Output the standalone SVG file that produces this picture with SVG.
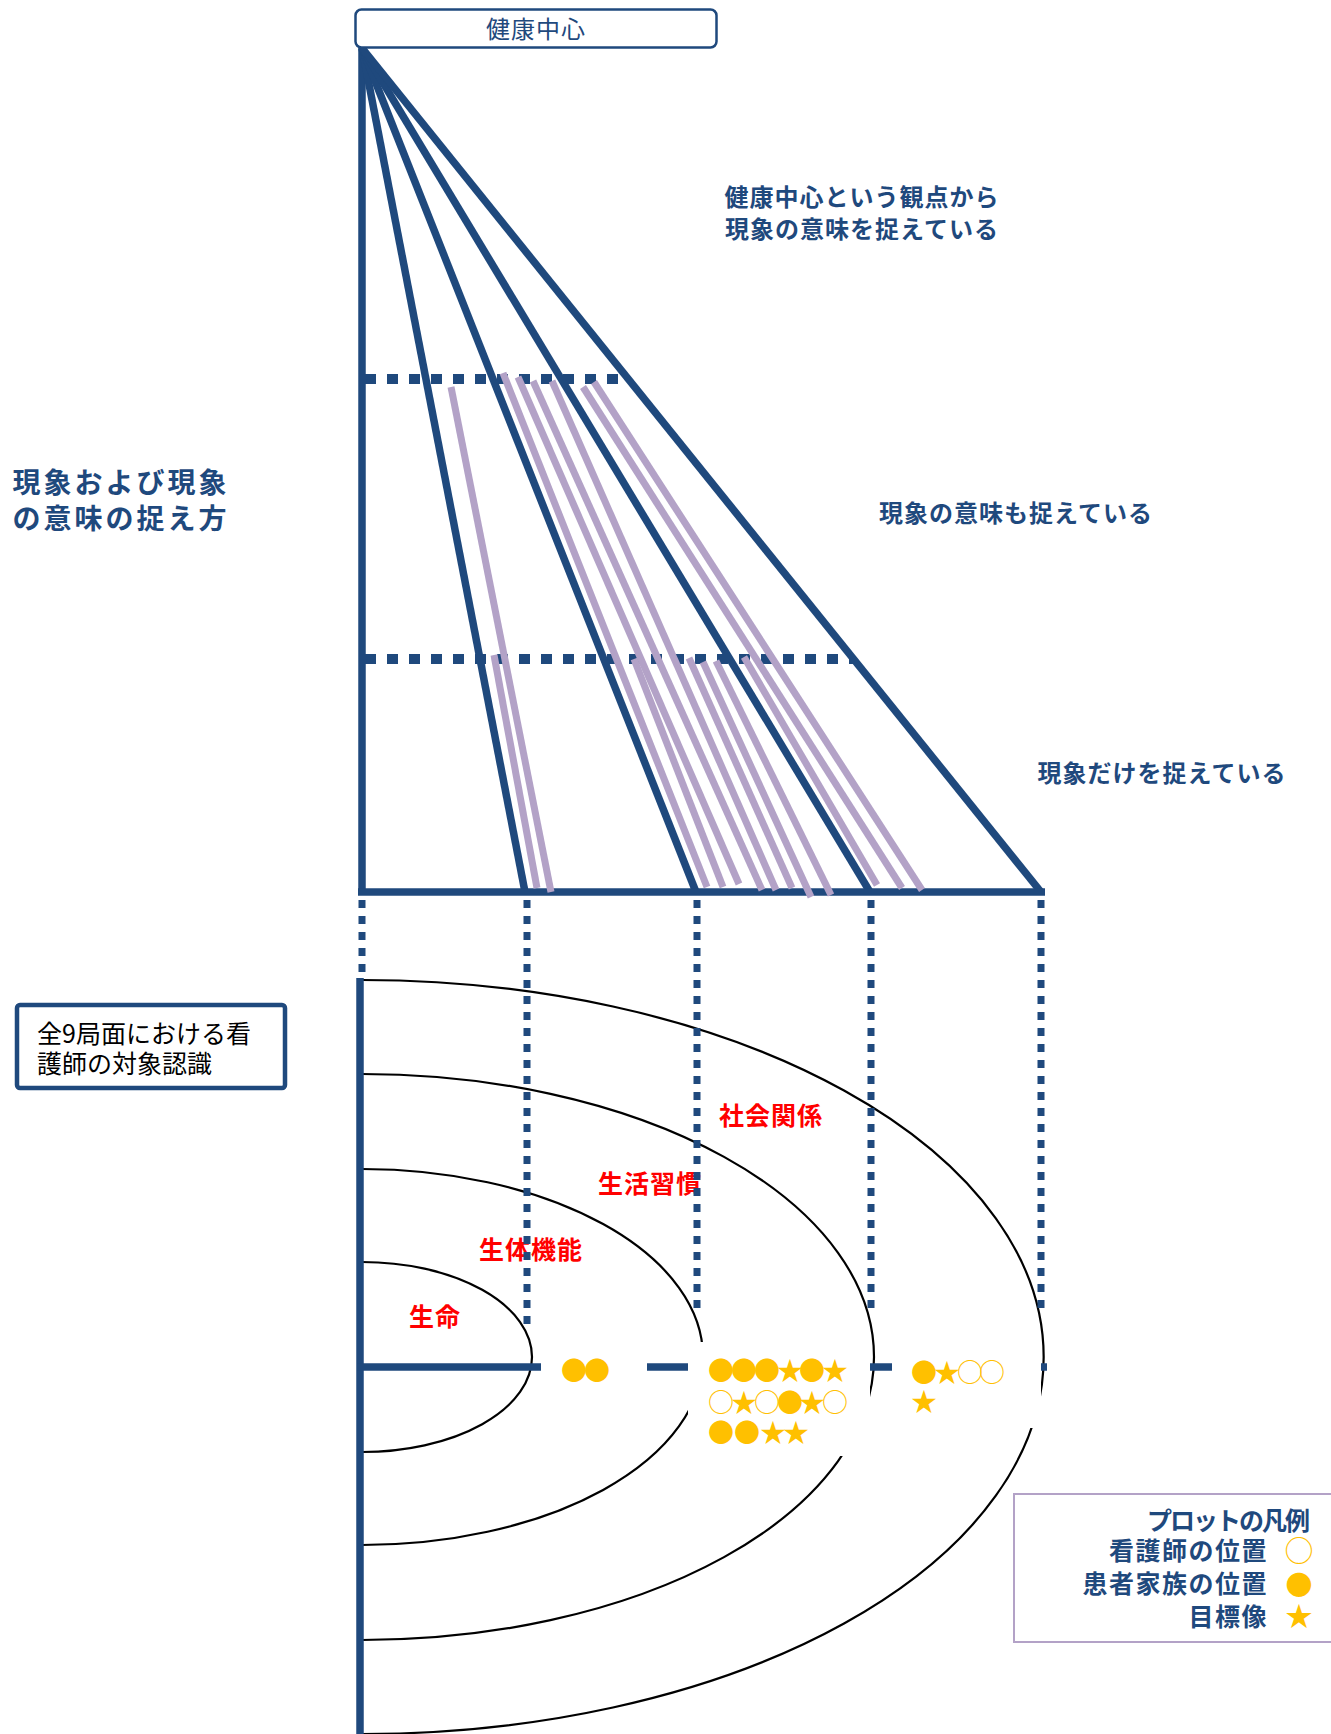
<svg xmlns="http://www.w3.org/2000/svg" width="1331" height="1734" viewBox="0 0 1331 1734">
<style>
.db{stroke:#1F497D;fill:none}
.fan{stroke:#1F497D;stroke-width:7.5;fill:none}
.dot1{stroke:#1F497D;stroke-width:10;stroke-dasharray:11 11;fill:none}
.dot2{stroke:#1F497D;stroke-width:7;stroke-dasharray:8 8;fill:none}
.lav{stroke:#B3A2C7;stroke-width:7;fill:none}
.arc{stroke:#000;stroke-width:2.2;fill:none}
.t{font-family:"Noto Sans CJK JP","Noto Sans CJK SC",sans-serif}
.lbl{font-family:"Noto Sans CJK JP","Noto Sans CJK SC",sans-serif;font-weight:bold;fill:#1F497D;font-size:24px;letter-spacing:1px}
.red{font-family:"Noto Sans CJK JP","Noto Sans CJK SC",sans-serif;font-weight:bold;fill:#FF0000;font-size:25px;letter-spacing:1px}
.sym{font-family:"Noto Sans CJK JP","Noto Sans CJK SC",sans-serif;fill:#FFC000;font-size:26px;text-anchor:middle}
</style>
<rect width="1331" height="1734" fill="#fff"/>

<g id="ellipses">
<path class="arc" d="M362,1262 A170,95 0 0 1 362,1452"/>
<path class="arc" d="M362,1169 A341,188 0 0 1 362,1545"/>
<path class="arc" d="M362,1074 A512,283 0 0 1 362,1640"/>
<path class="arc" d="M362,980 A682,377 0 0 1 362,1734"/>
</g>

<g id="connectors">
<line class="fan" x1="362" y1="48" x2="362" y2="892"/>
<line class="fan" x1="362" y1="48" x2="525" y2="892"/>
<line class="fan" x1="362" y1="48" x2="696" y2="892"/>
<line class="fan" x1="362" y1="48" x2="870" y2="892"/>
<line class="fan" x1="362" y1="48" x2="1041" y2="892"/>
<line class="fan" x1="358" y1="892" x2="1045" y2="892" stroke-width="8"/>
<line class="dot1" x1="365" y1="379" x2="629" y2="379"/>
<line class="dot1" x1="365" y1="659" x2="853" y2="659"/>
<line class="lav" x1="451" y1="387" x2="551" y2="892"/>
<line class="lav" x1="494" y1="655" x2="537" y2="888"/>
<line class="lav" x1="503" y1="373" x2="707" y2="887"/>
<line class="lav" x1="518" y1="377" x2="739" y2="884"/>
<line class="lav" x1="634" y1="659" x2="723" y2="887"/>
<line class="lav" x1="533" y1="381" x2="762" y2="890"/>
<line class="lav" x1="552" y1="381" x2="776" y2="890"/>
<line class="lav" x1="689" y1="658" x2="792" y2="888"/>
<line class="lav" x1="703" y1="662" x2="811" y2="897"/>
<line class="lav" x1="716" y1="661" x2="831" y2="895"/>
<line class="lav" x1="744" y1="657" x2="877" y2="885"/>
<line class="lav" x1="583" y1="387" x2="902" y2="888"/>
<line class="lav" x1="594" y1="382" x2="922" y2="890"/>
<line class="dot2" x1="362" y1="900" x2="362" y2="978"/>
<line class="fan" x1="360" y1="978" x2="360" y2="1734"/>
<line class="fan" x1="357" y1="1367" x2="1047" y2="1367" stroke-width="8"/>
</g>

<g id="labels-red">
<text class="red" x="771" y="1125" text-anchor="middle">社会関係</text>
<text class="red" x="650" y="1193" text-anchor="middle">生活習慣</text>
<text class="red" x="531" y="1259" text-anchor="middle">生体機能</text>
<text class="red" x="435" y="1326" text-anchor="middle">生命</text>
</g>

<g id="guides">
<line class="dot2" x1="527" y1="900" x2="527" y2="1327"/>
<line class="dot2" x1="697" y1="900" x2="697" y2="1312"/>
<line class="dot2" x1="871" y1="900" x2="871" y2="1312"/>
<line class="dot2" x1="1041" y1="900" x2="1041" y2="1312"/>
</g>

<g id="plot1">
<rect x="541" y="1345" width="106" height="47" fill="#fff"/>
<text class="sym" x="574 597" y="1380">●●</text>
</g>
<g id="plot2">
<rect x="688" y="1342" width="182" height="114" fill="#fff"/>
<text class="sym" x="721 744 767 790 812 835" y="1380">●●●★●★</text>
<text class="sym" x="721 744 767 790 812 835" y="1412">○★○●★○</text>
<text class="sym" x="721 747 773 796" y="1442">●●★★</text>
</g>
<g id="plot3">
<rect x="892" y="1345" width="149" height="83" fill="#fff"/>
<text class="sym" x="924 947 970 992" y="1382">●★○○</text>
<text class="sym" x="924" y="1411">★</text>
</g>

<g id="node-top">
<rect x="355.5" y="9.5" width="361" height="38" rx="6" fill="#fff" stroke="#1F497D" stroke-width="2.5"/>
<text class="t" x="536" y="38" text-anchor="middle" font-size="24" fill="#1F497D" letter-spacing="1">健康中心</text>
</g>

<g id="label-health">
<text class="lbl" x="862" y="206" text-anchor="middle">健康中心という観点から</text>
<text class="lbl" x="862" y="238" text-anchor="middle">現象の意味を捉えている</text>
</g>
<g id="label-meaning">
<text class="lbl" x="1016" y="522" text-anchor="middle">現象の意味も捉えている</text>
</g>
<g id="label-only">
<text class="lbl" x="1162" y="782" text-anchor="middle">現象だけを捉えている</text>
</g>
<g id="label-left">
<text class="lbl" x="121" y="493" text-anchor="middle" style="font-size:28px;letter-spacing:3px">現象および現象</text>
<text class="lbl" x="121" y="529" text-anchor="middle" style="font-size:28px;letter-spacing:3px">の意味の捉え方</text>
</g>

<g id="node-box">
<rect x="17" y="1005" width="268" height="83" rx="3" fill="#fff" stroke="#1F497D" stroke-width="4.5"/>
<text class="t" x="37" y="1043" font-size="25" fill="#000">全9局面における看</text>
<text class="t" x="37" y="1073" font-size="25" fill="#000">護師の対象認識</text>
</g>

<g id="legend">
<rect x="1014" y="1494" width="320" height="148" fill="#fff" stroke="#B3A2C7" stroke-width="2"/>
<text class="lbl" x="1310" y="1530" text-anchor="end" style="font-size:25px;letter-spacing:0px" textLength="163">プロットの凡例</text>
<text class="lbl" x="1268" y="1560" text-anchor="end" style="font-size:25px;letter-spacing:1.5px">看護師の位置</text>
<text class="lbl" x="1268" y="1593" text-anchor="end" style="font-size:25px;letter-spacing:1.5px">患者家族の位置</text>
<text class="lbl" x="1268" y="1626" text-anchor="end" style="font-size:25px;letter-spacing:1.5px">目標像</text>
<text class="sym" x="1299" y="1562" style="font-size:29px">○</text>
<text class="sym" x="1299" y="1595" style="font-size:27px">●</text>
<text class="sym" x="1299" y="1626" style="font-size:27px">★</text>
</g>
</svg>
